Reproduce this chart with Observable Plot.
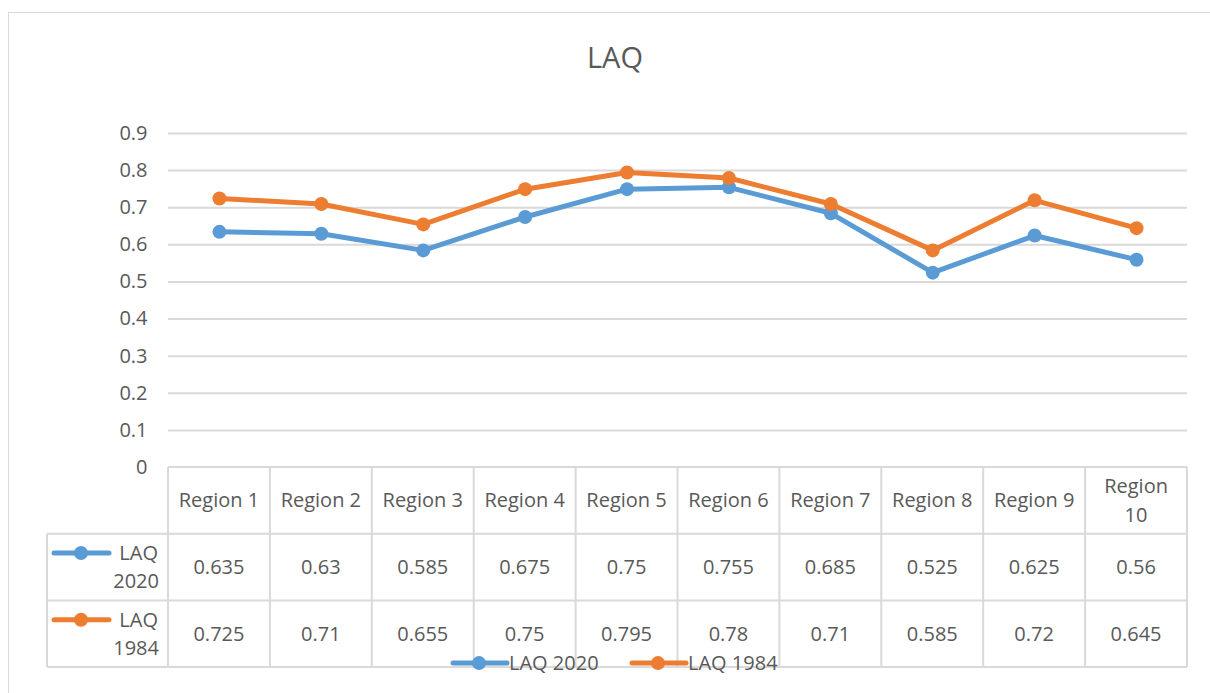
<!DOCTYPE html>
<html>
<head>
<meta charset="utf-8">
<script src="https://cdn.jsdelivr.net/npm/d3@7"></script>
<script src="https://cdn.jsdelivr.net/npm/@observablehq/plot@0.6"></script>
<style>
  html, body { margin: 0; padding: 0; background: #fff; overflow: hidden; }
  #wrap { position: relative; width: 1210px; height: 693px; overflow: hidden; }
  #frame { position: absolute; left: 8px; top: 12px; width: 1400px; height: 900px; border: 1px solid #d9d9d9; box-sizing: border-box; }
  #title { position: absolute; left: 0; top: 37px; width: 1230px; text-align: center; font-family: "Open Sans", sans-serif; font-size: 29px; color: #595959; }
  #chart { position: absolute; left: 0; top: 0; }
</style>
</head>
<body>
<div id="wrap">
  <div id="frame"></div>
  <div id="title">LAQ</div>
  <div id="chart"></div>
</div>
<script>
const regions = ["Region 1", "Region 2", "Region 3", "Region 4", "Region 5", "Region 6", "Region 7", "Region 8", "Region 9", "Region 10"];
const laq2020 = [0.635, 0.63, 0.585, 0.675, 0.75, 0.755, 0.685, 0.525, 0.625, 0.56];
const laq1984 = [0.725, 0.71, 0.655, 0.75, 0.795, 0.78, 0.71, 0.585, 0.72, 0.645];
const seriesNames = ["LAQ 2020", "LAQ 1984"];
const seriesColors = ["#5b9bd5", "#ed7d31"];
const yTicks = [0, 0.1, 0.2, 0.3, 0.4, 0.5, 0.6, 0.7, 0.8, 0.9];

const seriesValues = [laq2020, laq1984];
const data = [];
seriesNames.forEach((s, k) => regions.forEach((r, i) => data.push({region: r, series: s, value: seriesValues[k][i]})));

const FONT = "'Open Sans', sans-serif";
const TXT = "#595959";
const LINE = "#d9d9d9";

function tableMark(index, scales) {
  const x = scales.x, y = scales.y;
  const step = x(regions[1]) - x(regions[0]);
  const left0 = x(regions[0]) - step / 2;
  const right = x(regions[regions.length - 1]) + step / 2;
  const labelLeft = 47;
  const rowH = 66.7;
  const y0 = y(0);
  const g = d3.create("svg:g");
  const line = (x1, y1, x2, y2) => g.append("line").attr("x1", x1).attr("y1", y1).attr("x2", x2).attr("y2", y2)
    .attr("stroke", LINE).attr("stroke-width", 2);
  // horizontals
  line(left0, y0, right, y0);
  for (let k = 1; k <= 3; k++) line(labelLeft, y0 + rowH * k, right, y0 + rowH * k);
  // verticals
  line(labelLeft, y0 + rowH, labelLeft, y0 + rowH * 3);
  regions.forEach(r => line(x(r) - step / 2, y0, x(r) - step / 2, y0 + rowH * 3));
  line(right, y0, right, y0 + rowH * 3);
  const text = (tx, ty, s, anchor = "middle") => g.append("text").attr("x", tx).attr("y", ty)
    .attr("text-anchor", anchor).attr("dy", "0.35em").attr("fill", TXT).attr("font-size", 20).text(s);
  // header
  regions.forEach(r => {
    const parts = r === "Region 10" ? ["Region", "10"] : [r];
    if (parts.length === 1) text(x(r), y0 + rowH / 2, parts[0]);
    else { text(x(r), y0 + rowH / 2 - 14, parts[0]); text(x(r), y0 + rowH / 2 + 15, parts[1]); }
  });
  // rows
  seriesNames.forEach((s, k) => {
    const cy = y0 + rowH * (k + 1.5);
    seriesValues[k].forEach((v, i) => text(x(regions[i]), cy, String(v)));
    const words = s.split(" ");
    text(left0 - 10, cy - 14, words[0], "end");
    text(left0 - 9, cy + 14, words[1], "end");
    g.append("line").attr("x1", labelLeft + 7).attr("x2", labelLeft + 62).attr("y1", cy - 14).attr("y2", cy - 14)
      .attr("stroke", seriesColors[k]).attr("stroke-width", 5).attr("stroke-linecap", "round");
    g.append("circle").attr("cx", labelLeft + 34).attr("cy", cy - 14).attr("r", 7).attr("fill", seriesColors[k]);
  });
  // bottom legend
  const ly = y0 + rowH * 3 - 4;
  let lx = 451;
  seriesNames.forEach((s, k) => {
    g.append("line").attr("x1", lx + 2).attr("x2", lx + 56).attr("y1", ly).attr("y2", ly)
      .attr("stroke", seriesColors[k]).attr("stroke-width", 5).attr("stroke-linecap", "round");
    g.append("circle").attr("cx", lx + 28).attr("cy", ly).attr("r", 7).attr("fill", seriesColors[k]);
    text(lx + 58, ly, s, "start");
    lx += 179;
  });
  return g.node();
}

const chart = Plot.plot({
  width: 1210,
  height: 693,
  marginLeft: 168,
  marginRight: 23,
  marginTop: 133,
  marginBottom: 226,
  style: {fontFamily: FONT, fontSize: "20px", color: TXT, background: "transparent", overflow: "visible"},
  x: {type: "point", domain: regions, padding: 0.5, round: false, axis: null},
  y: {domain: [0, 0.9], ticks: yTicks, tickSize: 0, tickPadding: 21, tickFormat: d => String(d), label: null},
  color: {domain: seriesNames, range: seriesColors},
  marks: [
    Plot.ruleY(yTicks.filter(d => d > 0), {stroke: LINE, strokeWidth: 2}),
    tableMark,
    Plot.line(data, {x: "region", y: "value", z: "series", stroke: "series", strokeWidth: 5, strokeLinejoin: "round"}),
    Plot.dot(data, {x: "region", y: "value", fill: "series", r: 7})
  ]
});
document.getElementById("chart").appendChild(chart);
</script>
</body>
</html>
